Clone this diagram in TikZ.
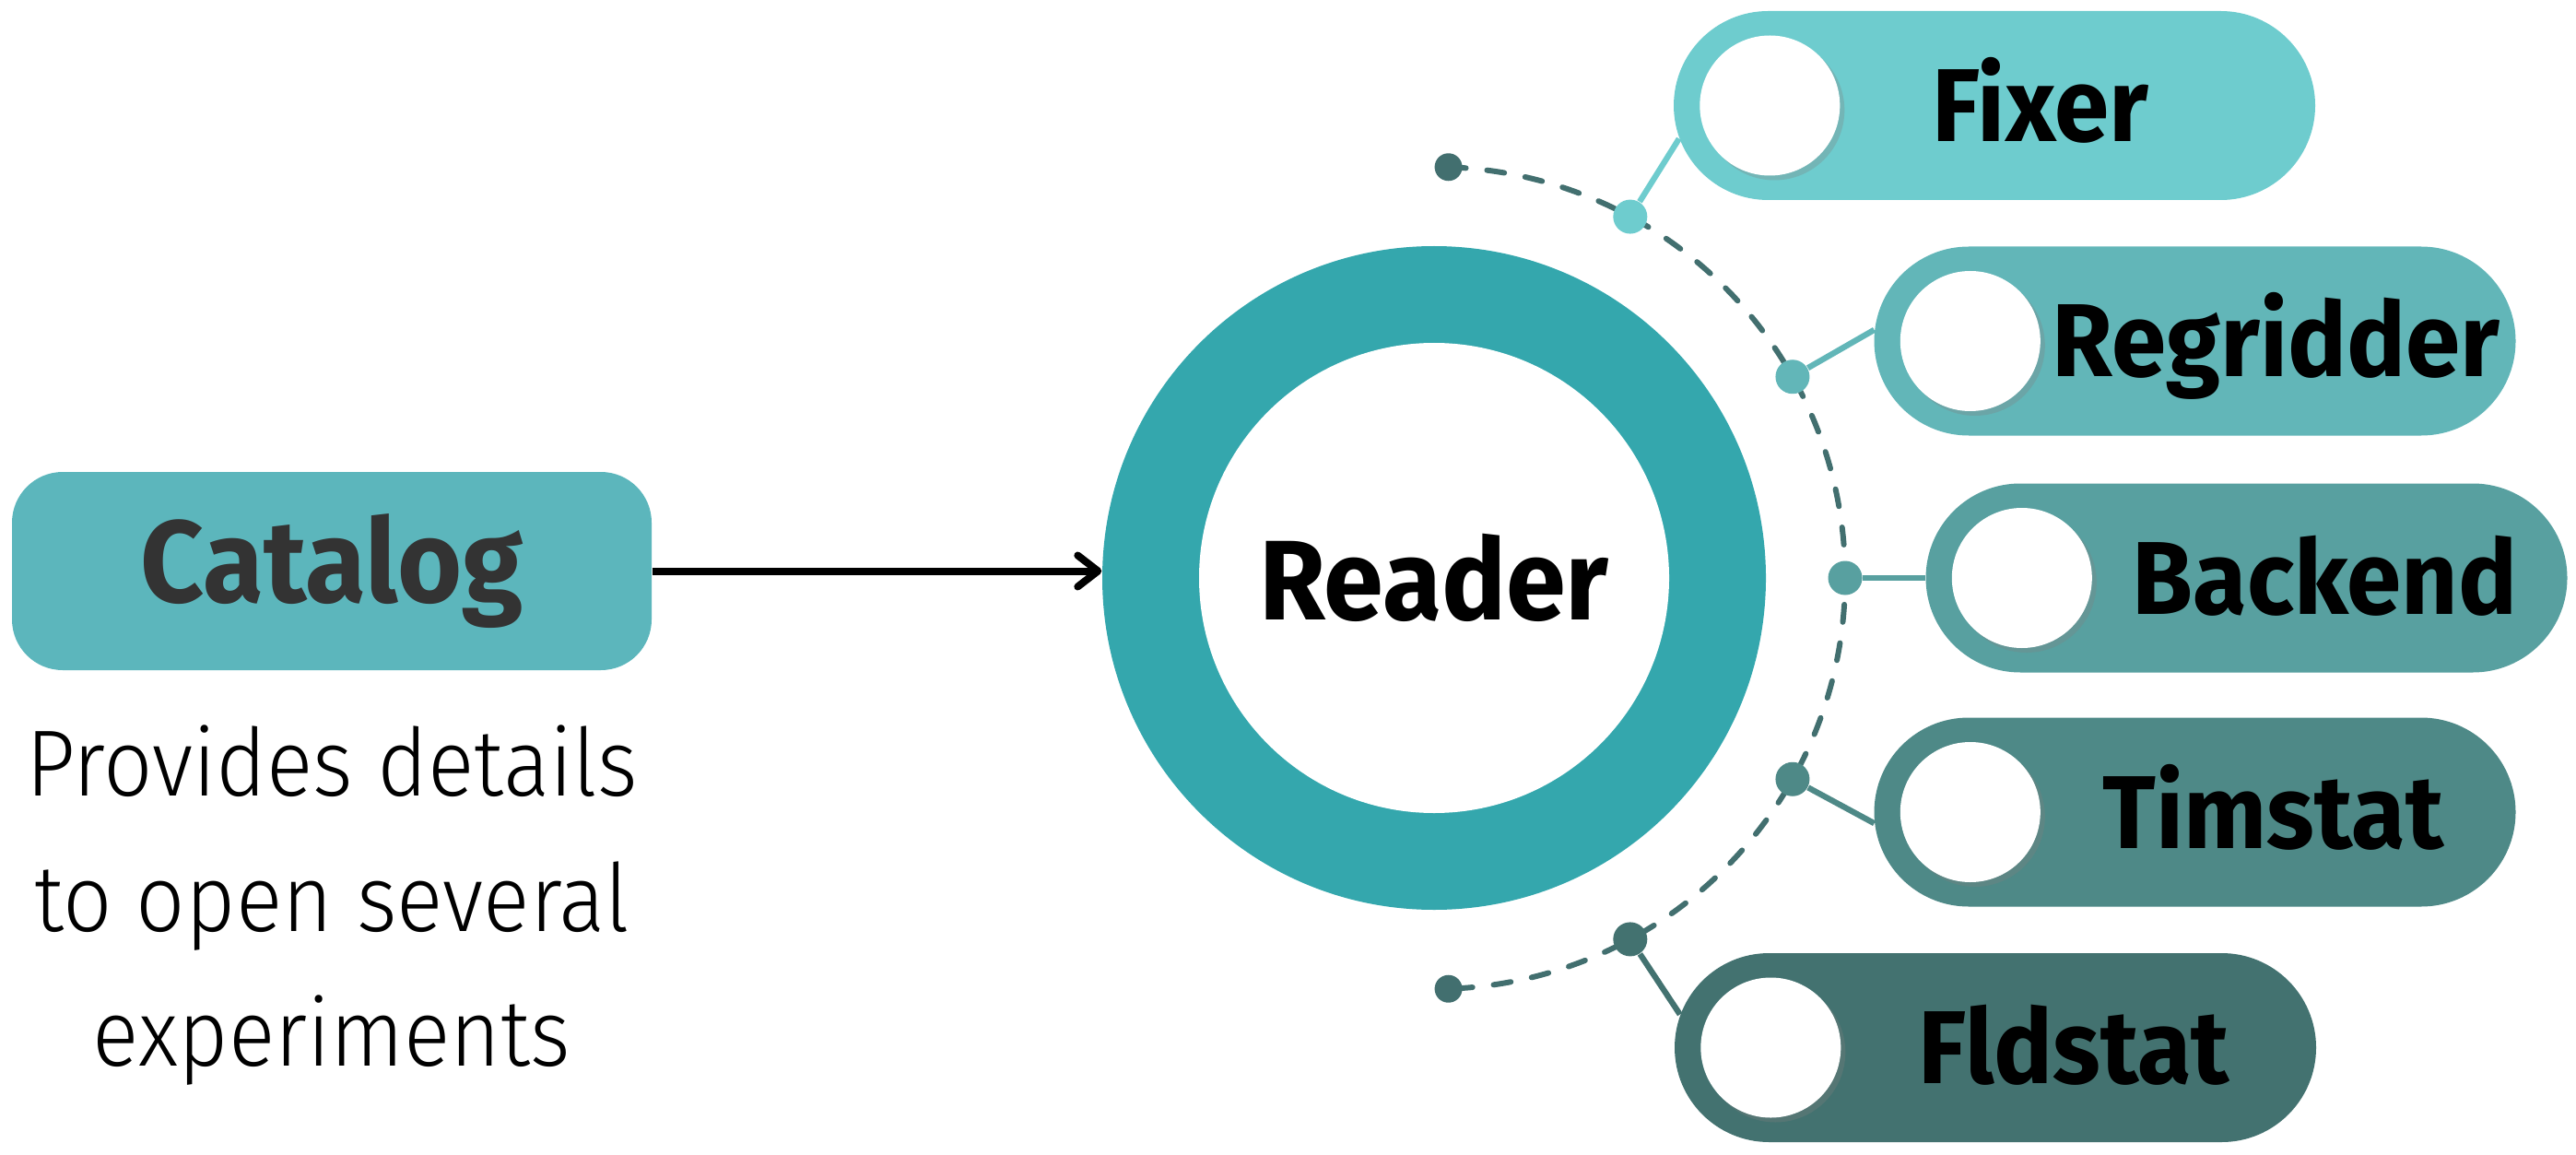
\documentclass[tikz,border=0pt]{standalone}
\usepackage{fontspec}
\setmainfont{Fira Sans}[FakeStretch=0.95]
\newfontfamily\thinfont{Fira Sans Light}[FakeStretch=0.92]
\usetikzlibrary{arrows.meta,positioning,shapes.misc,shadows}

\definecolor{ringcol}{HTML}{34A7AD}
\definecolor{catcol}{HTML}{5CB6BC}
\definecolor{catgray}{HTML}{333333}
\definecolor{fixcol}{HTML}{6ECCCE}
\definecolor{regcol}{HTML}{62B6B8}
\definecolor{backcol}{HTML}{58A0A0}
\definecolor{timcol}{HTML}{4E8987}
\definecolor{fldcol}{HTML}{437270}
\definecolor{dashcol}{HTML}{426F6F}

\begin{document}
\begin{tikzpicture}[
  pill/.style={rounded rectangle, minimum width=6.96cm, minimum height=2.05cm, inner sep=0pt},
  hole/.style={circle, fill=white, minimum size=1.52cm, inner sep=0pt,
    drop shadow={opacity=0.3, shadow xshift=0.05cm, shadow yshift=-0.05cm}},
  ptext/.style={font=\bfseries\fontsize{32}{36}\selectfont, text height=0.78cm, text depth=0pt, inner sep=0pt},
  bead/.style={circle, minimum size=0.37cm, inner sep=0pt},
  enddot/.style={circle, fill=dashcol, minimum size=0.30cm, inner sep=0pt},
  linkline/.style={line width=1.8pt},
  dashline/.style={dashcol, line width=1.7pt, line cap=round, dash pattern=on 0.19cm off 0.23cm}
]
\useasboundingbox (0,0) rectangle (27.95,12.52);

% catalog on the left
\node[rounded corners=0.55cm, fill=catcol, text=catgray, minimum width=6.94cm, minimum height=2.15cm,
  font=\bfseries\fontsize{36}{40}\selectfont] (catalog) at (3.60,6.325) {Catalog};
\node[below=0.58cm of catalog, align=center, inner sep=0pt,
  font=\thinfont\fontsize{29}{41.8}\selectfont] (desc) {Provides details\\to open several\\experiments};

% reader ring
\node[circle, fill=ringcol, minimum size=7.2cm, inner sep=0pt] (ring) at (15.56,6.25) {};
\node[circle, fill=white, minimum size=5.1cm, inner sep=0pt,
  font=\bfseries\fontsize{35}{40}\selectfont] (reader) at (ring.center) {Reader};

\path[draw, line width=0.08cm, -{Straight Barb[round,length=0.22cm,width=0.34cm]}] (catalog.east) -- (catalog.east -| ring.west);

% dashed arc
\draw[dashline] ([shift={(88:4.46)}]ring.center) arc[start angle=88, end angle=-88, radius=4.46];

% pills
\node[pill, fill=fixcol] (fixer) at (21.64,11.375) {};
\node[pill, fill=regcol] (regridder) at (23.815,8.82) {};
\node[pill, fill=backcol] (backend) at (24.375,6.25) {};
\node[pill, fill=timcol] (timstat) at (23.815,3.71) {};
\node[pill, fill=fldcol] (fldstat) at (21.65,1.155) {};

\node[hole] (fixer-hole) at ([xshift=1.05cm]fixer.west) {};
\node[hole] (regridder-hole) at ([xshift=1.05cm]regridder.west) {};
\node[hole] (backend-hole) at ([xshift=1.05cm]backend.west) {};
\node[hole] (timstat-hole) at ([xshift=1.05cm]timstat.west) {};
\node[hole] (fldstat-hole) at ([xshift=1.05cm]fldstat.west) {};

\node[ptext] (fixer-text) at ([xshift=0.50cm]fixer.center) {Fixer};
\node[ptext] (regridder-text) at ([xshift=0.88cm]regridder.center) {Regridder};
\node[ptext] (backend-text) at ([xshift=0.85cm]backend.center) {Backend};
\node[ptext] (timstat-text) at ([xshift=0.85cm]timstat.center) {Timstat};
\node[ptext] (fldstat-text) at ([xshift=0.85cm]fldstat.center) {Fldstat};

% beads on the arc
\node[enddot] (arc-top) at ([shift={(88:4.46)}]ring.center) {};
\node[enddot] (arc-bot) at ([shift={(-88:4.46)}]ring.center) {};
\node[bead, fill=fixcol] (fixer-bead) at ([shift={(61.5:4.46)}]ring.center) {};
\node[bead, fill=regcol] (regridder-bead) at ([shift={(29.3:4.46)}]ring.center) {};
\node[bead, fill=backcol] (backend-bead) at ([shift={(0:4.46)}]ring.center) {};
\node[bead, fill=timcol] (timstat-bead) at ([shift={(-29.3:4.46)}]ring.center) {};
\node[bead, fill=fldcol] (fldstat-bead) at ([shift={(-61.5:4.46)}]ring.center) {};

\path[draw, linkline, fixcol] (fixer-bead) -- (fixer.186);
\path[draw, linkline, regcol] (regridder-bead) -- (regridder.178);
\path[draw, linkline, backcol] (backend-bead) -- (backend.west);
\path[draw, linkline, timcol] (timstat-bead) -- (timstat.182);
\path[draw, linkline, fldcol] (fldstat-bead) -- (fldstat.174);
\end{tikzpicture}
\end{document}
